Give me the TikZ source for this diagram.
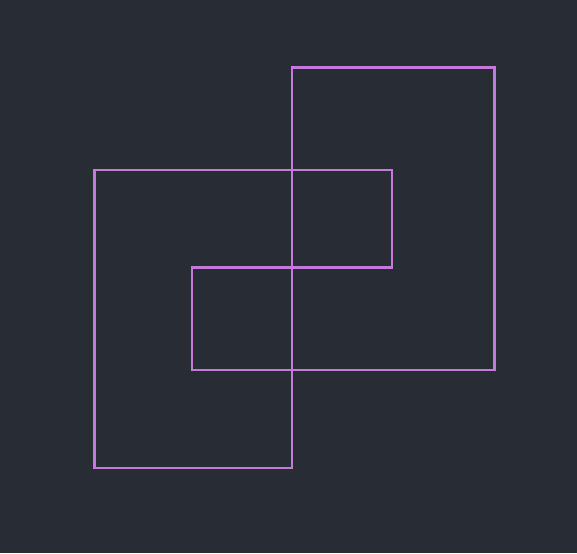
\documentclass[tikz,border=0pt]{standalone}
\definecolor{bgc}{HTML}{282C34}
\definecolor{linec}{HTML}{C678DD}
\begin{document}
\begin{tikzpicture}[x=1pt,y=-1pt,
  outline/.style={draw=linec,line width=2.4pt}]
\fill[bgc] (0,0) rectangle (577,553);
\useasboundingbox (0,0) rectangle (577,553);
\draw[outline] (94.3,170.3) rectangle (291.7,467.8);
\draw[outline] (291.7,67.6) rectangle (494.3,370.2);
\draw[outline] (191.7,267.4) rectangle (291.7,370.2);
\draw[outline] (291.7,170.3) rectangle (391.8,267.4);
\end{tikzpicture}
\end{document}
